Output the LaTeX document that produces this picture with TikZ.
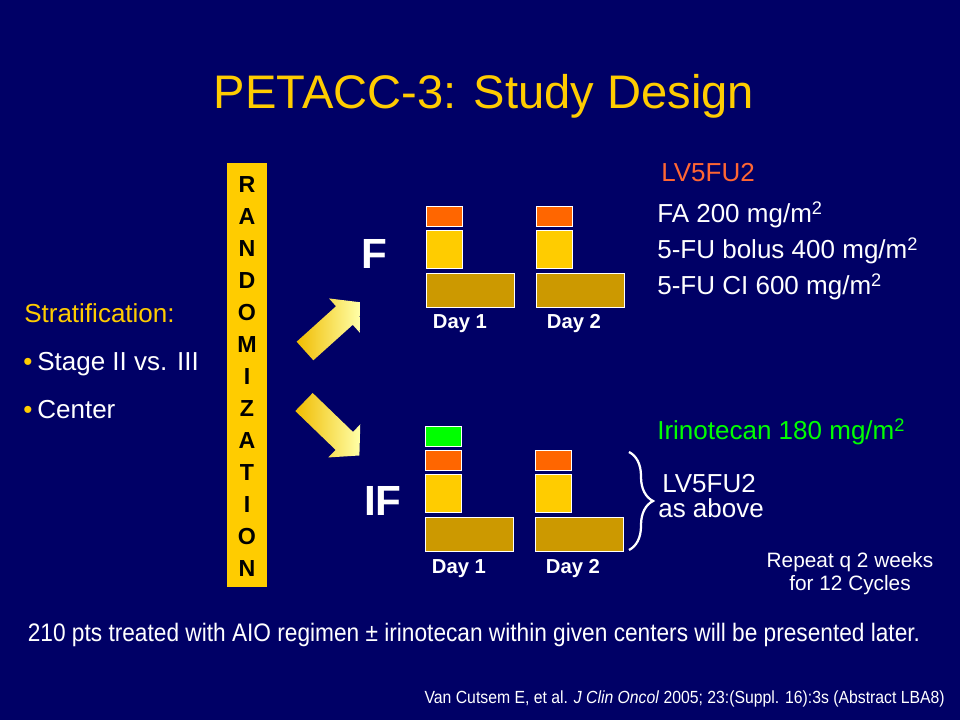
\documentclass[tikz,border=0pt]{standalone}
\usepackage{fontspec}
\setmainfont{Liberation Sans}
\usepackage{graphicx}
\usetikzlibrary{calc, decorations.pathreplacing}

\definecolor{slidebg}{HTML}{000066}
\definecolor{slideyellow}{HTML}{FFCC00}
\definecolor{doseorange}{HTML}{FF6600}
\definecolor{dosebrown}{HTML}{CC9900}
\definecolor{dosegreen}{HTML}{00FF00}
\definecolor{lvorange}{HTML}{FF6633}
\definecolor{arrowgold}{HTML}{F0BC00}
\definecolor{arrowpale}{HTML}{FFFFA8}

\newcommand{\fsz}[2]{\fontsize{#1}{#2}\selectfont}

\begin{document}
\begin{tikzpicture}[x=0.025cm, y=-0.025cm,
		txt/.style={inner sep=0, text=white, anchor=base west, font=\fsz{18.5}{22}},
		dose/.style={draw=white, line width=0.8pt, inner sep=0, anchor=north west},
		smalldose/.style={dose, minimum width=0.9cm, minimum height=0.5cm},
		bolusdose/.style={dose, fill=slideyellow, minimum width=0.9cm, minimum height=0.95cm},
		infdose/.style={dose, fill=dosebrown, minimum width=2.2cm, minimum height=0.85cm},
		daylbl/.style={inner sep=0, text=white, anchor=base, font=\fsz{14.4}{17}\bfseries},
		armlbl/.style={inner sep=0, text=white, font=\fsz{30}{34}\bfseries},
		randletter/.style={inner sep=0, text=black, font=\fsz{16.5}{19}\bfseries},
		bigarrow/.style={left color=arrowgold, right color=arrowpale, draw=none}]

		\fill [slidebg] (0,0) rectangle (960,720);

		\node [inner sep=0, anchor=base, text=slideyellow, font=\fsz{33.5}{38}] (title) at (484,109) {PETACC-3: Study Design};

		\begin{scope}
			\node [inner sep=0, fill=slideyellow, minimum width=1cm, minimum height=10.6cm, anchor=north west] (rand) at (227,163) {};
			\foreach \ltr [count=\i] in {R,A,N,D,O,M,I,Z,A,T,I,O,N}
				\node [randletter] (rl\i) at (247, {185+32*(\i-1)}) {\ltr};
		\end{scope}

		\begin{scope}
			\node [txt, text=slideyellow] (strat) at (24,323) {Stratification:};
			\node [txt] (strat1) at (23,371) {\textcolor{slideyellow}{\textbullet}\hspace{3.5pt}Stage II vs. III};
			\node [txt] (strat2) at (23,419) {\textcolor{slideyellow}{\textbullet}\hspace{3.5pt}Center};
		\end{scope}

		\begin{scope}[shift={(305,351)}, rotate=42]
			\shade [bigarrow] (0,-12.5) -- (53,-12.5) -- (53,-23) -- (73,0) -- (53,23) -- (53,12.5) -- (0,12.5) -- cycle;
		\end{scope}
		\begin{scope}[shift={(304,402)}, rotate=-44]
			\shade [bigarrow] (0,-12.5) -- (56,-12.5) -- (56,-23) -- (77,0) -- (56,23) -- (56,12.5) -- (0,12.5) -- cycle;
		\end{scope}

		\node [armlbl] (armF) at (374,254) {F};
		\node [armlbl] (armIF) at (383,501) {IF};

		\begin{scope}
			\node [smalldose, fill=doseorange] (fFA1) at (426,206) {};
			\node [bolusdose] (fBol1) at (426,230) {};
			\node [infdose] (fCI1) at (426,273) {};
			\node [smalldose, fill=doseorange] (fFA2) at (536,206) {};
			\node [bolusdose] (fBol2) at (536,230) {};
			\node [infdose] (fCI2) at (536,273) {};
			\node [daylbl] (fDay1) at (460,329) {Day 1};
			\node [daylbl] (fDay2) at (574,329) {Day 2};
		\end{scope}

		\begin{scope}
			\node [smalldose, fill=dosegreen] (ifIri1) at (425,426) {};
			\node [smalldose, fill=doseorange] (ifFA1) at (425,450) {};
			\node [bolusdose] (ifBol1) at (425,474) {};
			\node [infdose] (ifCI1) at (425,517) {};
			\node [smalldose, fill=doseorange] (ifFA2) at (535,450) {};
			\node [bolusdose] (ifBol2) at (535,474) {};
			\node [infdose] (ifCI2) at (535,517) {};
			\node [daylbl] (ifDay1) at (459,574) {Day 1};
			\node [daylbl] (ifDay2) at (573,574) {Day 2};
		\end{scope}

		\begin{scope}
			\node [txt, text=lvorange] (lvHead) at (661,182) {LV5FU2};
			\node [txt] (faLine) at (657,223) {FA 200 mg/m\textsuperscript{2}};
			\node [txt] (bolLine) at (657,259) {5-FU bolus 400 mg/m\textsuperscript{2}};
			\node [txt] (ciLine) at (657,295) {5-FU CI 600 mg/m\textsuperscript{2}};
		\end{scope}

		\begin{scope}
			\node [txt, text=dosegreen] (iriLine) at (657,440) {Irinotecan 180 mg/m\textsuperscript{2}};
			\node [txt] (lvAgain) at (662,493) {LV5FU2};
			\node [txt] (asAbove) at (658,518) {as above};
			\coordinate (braceTop) at (629,452);
			\coordinate (braceBot) at (629,550);
			\draw [white, line width=1.6pt, decorate, decoration={brace, amplitude=0.6cm}] (braceTop) -- (braceBot);
		\end{scope}

		\node [inner sep=0, anchor=base, text=white, font=\fsz{14.8}{17}] (rep1) at (850,567) {Repeat q 2 weeks};
		\node [inner sep=0, anchor=base, text=white, font=\fsz{14.8}{17}] (rep2) at (850,590) {for 12 Cycles};

		\node [inner sep=0, anchor=base, text=white, font=\fsz{18}{21}] (note) at (474,641) {\resizebox{22.3cm}{\height}{210 pts treated with AIO regimen ± irinotecan within given centers will be presented later.}};
		\node [inner sep=0, anchor=base east, text=white, font=\fsz{12.5}{14}] (cite) at (945,703) {\resizebox{13cm}{\height}{Van Cutsem E, et al. \textit{J Clin Oncol} 2005; 23:(Suppl. 16):3s (Abstract LBA8)}};
	\end{tikzpicture}
\end{document}
